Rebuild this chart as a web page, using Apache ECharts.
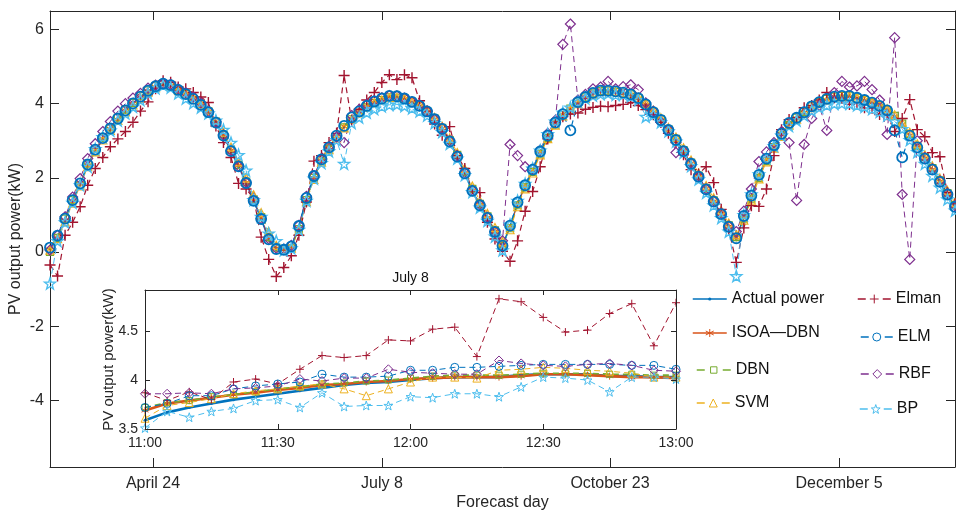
<!DOCTYPE html>
<html>
<head>
<meta charset="utf-8">
<script src="https://cdn.jsdelivr.net/npm/echarts@6/dist/echarts.min.js"></script>
<style>
  html, body { margin: 0; padding: 0; background: #fff; }
  #chart { width: 956px; height: 512px; }
</style>
</head>
<body>
<div id="chart"></div>
<script>
// ---- Forecast-day curves (sample index 0..120, kW) ----
const actualPower = [
  0.10,0.42,0.88,1.38,1.83,2.35,2.74,3.05,3.30,3.58,
  3.80,3.99,4.17,4.34,4.46,4.53,4.49,4.36,4.25,4.12,
  3.96,3.76,3.48,3.13,2.71,2.30,1.85,1.37,0.88,0.32,
  0.07,0.05,0.14,0.68,1.45,2.03,2.48,2.80,3.12,3.38,
  3.61,3.77,3.92,4.04,4.12,4.19,4.18,4.12,4.03,3.92,
  3.77,3.56,3.30,2.96,2.55,2.10,1.63,1.24,0.90,0.52,
  0.15,0.69,1.32,1.78,2.20,2.69,3.12,3.47,3.70,3.85,
  4.02,4.16,4.27,4.33,4.33,4.31,4.28,4.23,4.13,3.96,
  3.75,3.54,3.27,3.00,2.70,2.36,2.01,1.67,1.34,1.00,
  0.66,0.35,0.95,1.50,2.06,2.50,2.86,3.17,3.46,3.60,
  3.75,3.91,4.02,4.11,4.17,4.19,4.19,4.14,4.08,4.01,
  3.92,3.80,3.63,3.41,3.12,2.80,2.50,2.20,1.87,1.53,
  1.20
];
const isoaDbn = [
  0.08,0.40,0.85,1.36,1.85,2.33,2.76,3.06,3.32,3.57,
  3.82,4.00,4.18,4.33,4.45,4.51,4.48,4.37,4.24,4.13,
  3.97,3.78,3.50,3.16,2.74,2.33,1.88,1.40,0.92,0.37,
  0.10,0.06,0.13,0.64,1.42,2.00,2.46,2.81,3.11,3.39,
  3.60,3.78,3.93,4.03,4.11,4.18,4.17,4.13,4.04,3.93,
  3.78,3.58,3.33,2.99,2.58,2.13,1.66,1.27,0.93,0.55,
  0.18,0.66,1.29,1.76,2.18,2.67,3.10,3.46,3.71,3.86,
  4.01,4.15,4.26,4.32,4.34,4.30,4.27,4.24,4.14,3.97,
  3.77,3.56,3.29,3.02,2.73,2.39,2.04,1.70,1.37,1.03,
  0.69,0.38,0.92,1.47,2.04,2.48,2.85,3.16,3.44,3.61,
  3.76,3.90,4.01,4.10,4.16,4.18,4.18,4.15,4.09,4.02,
  3.93,3.81,3.65,3.43,3.15,2.83,2.53,2.23,1.90,1.56,
  1.23
];
const dbn = [
  0.00,0.38,0.90,1.40,1.80,2.38,2.72,3.08,3.33,3.62,
  3.84,4.02,4.20,4.36,4.47,4.52,4.47,4.34,4.26,4.10,
  3.98,3.79,3.52,3.17,2.76,2.35,1.90,1.42,0.94,0.40,
  0.12,0.04,0.10,0.62,1.40,2.00,2.44,2.78,3.10,3.36,
  3.58,3.75,3.90,4.02,4.10,4.17,4.16,4.14,4.05,3.95,
  3.80,3.60,3.35,3.02,2.62,2.16,1.70,1.30,0.96,0.58,
  0.20,0.64,1.26,1.74,2.16,2.65,3.08,3.44,3.69,3.87,
  4.04,4.17,4.28,4.34,4.35,4.32,4.29,4.25,4.15,3.99,
  3.78,3.58,3.31,3.05,2.75,2.41,2.06,1.72,1.39,1.05,
  0.72,0.40,0.90,1.44,2.00,2.46,2.83,3.14,3.42,3.62,
  3.78,3.93,4.04,4.13,4.19,4.21,4.20,4.16,4.10,4.03,
  3.95,3.83,3.67,3.46,3.18,2.86,2.56,2.26,1.93,1.59,
  1.27
];
const svm = [
  0.05,0.36,0.82,1.32,1.78,2.30,2.70,3.02,3.28,3.55,
  3.78,3.97,4.15,4.31,4.43,4.50,4.48,4.38,4.28,4.16,
  4.01,3.82,3.56,3.23,2.83,2.43,2.00,1.54,1.06,0.55,
  0.18,0.08,0.10,0.58,1.36,1.96,2.42,2.76,3.08,3.35,
  3.58,3.75,3.90,4.02,4.10,4.16,4.17,4.14,4.06,3.97,
  3.83,3.63,3.39,3.07,2.68,2.24,1.78,1.38,1.04,0.66,
  0.28,0.60,1.22,1.70,2.13,2.62,3.06,3.42,3.67,3.84,
  4.00,4.14,4.26,4.33,4.34,4.33,4.30,4.26,4.17,4.02,
  3.82,3.62,3.36,3.10,2.81,2.48,2.13,1.79,1.46,1.12,
  0.78,0.46,0.86,1.40,1.97,2.43,2.80,3.12,3.42,3.58,
  3.73,3.89,4.00,4.10,4.16,4.19,4.20,4.17,4.12,4.05,
  3.97,3.86,3.70,3.50,3.23,2.92,2.62,2.32,1.99,1.66,
  1.33
];
const elman = [
  -0.35,-0.65,0.45,0.80,1.22,1.80,2.25,2.55,2.84,3.05,
  3.25,3.50,3.80,4.05,4.40,4.62,4.58,4.45,4.40,4.30,
  4.18,4.03,3.40,2.95,2.55,1.85,1.70,1.45,0.40,-0.20,
  -0.66,-0.42,-0.10,0.45,1.35,2.45,2.60,2.95,3.20,4.76,
  3.55,3.85,4.10,4.30,4.57,4.78,4.65,4.78,4.70,4.08,
  3.80,3.45,3.15,3.38,2.60,2.25,1.65,1.60,0.80,0.35,
  0.02,-0.25,0.30,1.10,1.63,2.30,3.05,3.50,3.65,3.72,
  3.75,3.85,3.90,3.93,3.92,3.95,3.98,4.03,3.95,3.84,
  3.70,3.50,3.20,2.95,2.62,2.22,2.10,2.30,1.87,1.15,
  0.60,-0.28,0.65,1.25,1.23,1.70,2.60,3.30,3.57,3.62,
  3.89,3.95,4.10,4.30,4.16,4.15,3.98,4.02,3.89,3.88,
  3.71,3.70,3.25,3.60,4.11,3.30,3.11,2.68,2.57,1.60,
  1.30
];
const elm = [
  0.12,0.44,0.90,1.40,1.85,2.36,2.76,3.07,3.33,3.60,
  3.82,4.01,4.19,4.35,4.47,4.54,4.50,4.37,4.26,4.13,
  3.97,3.77,3.49,3.14,2.72,2.31,1.86,1.38,0.89,0.34,
  0.08,0.06,0.15,0.70,1.46,2.05,2.50,2.82,3.14,3.40,
  3.63,3.79,3.94,4.06,4.14,4.21,4.20,4.14,4.05,3.94,
  3.79,3.58,3.32,2.98,2.57,2.12,1.65,1.26,0.92,0.54,
  0.17,0.71,1.34,1.80,2.22,2.71,3.14,3.49,3.72,3.28,
  4.04,4.18,4.29,4.35,4.35,4.33,4.30,4.25,4.15,3.98,
  3.77,3.56,3.29,3.02,2.72,2.38,2.03,1.69,1.36,1.02,
  0.68,0.37,0.97,1.52,2.08,2.52,2.88,3.19,3.48,3.62,
  3.77,3.93,4.04,4.13,4.19,4.21,4.21,4.16,4.10,4.03,
  3.94,3.82,3.28,2.55,3.14,2.82,2.52,2.22,1.89,1.55,
  1.22
];
const rbf = [
  0.05,0.45,0.95,1.48,1.98,2.52,2.92,3.25,3.52,3.80,
  4.00,4.15,4.28,4.42,4.50,4.55,4.52,4.40,4.30,4.18,
  4.02,3.80,3.52,3.16,2.74,2.32,1.88,1.40,0.90,0.36,
  0.10,0.08,0.18,0.72,1.50,2.06,2.52,2.85,3.10,2.95,
  3.68,3.85,3.98,4.08,4.16,4.22,4.21,4.15,4.05,3.96,
  3.80,3.58,3.34,3.00,2.60,2.14,1.66,1.28,0.94,0.55,
  0.30,2.90,2.60,2.30,2.25,2.75,3.20,3.55,5.60,6.15,
  4.10,4.25,4.40,4.45,4.60,4.40,4.46,4.51,4.38,4.02,
  3.80,3.50,3.30,2.68,2.72,2.40,2.05,1.70,1.38,1.04,
  0.70,0.55,1.10,1.70,2.44,2.70,2.95,3.25,2.95,1.39,
  2.90,3.60,3.95,3.28,4.30,4.60,4.45,4.48,4.60,4.38,
  4.10,3.17,5.78,1.55,-0.20,3.00,2.55,2.25,1.92,1.58,
  1.25
];
const bp = [
  -0.85,0.30,0.80,1.33,1.80,2.30,2.78,3.10,3.28,3.55,
  3.74,3.92,4.10,4.28,4.42,4.50,4.44,4.28,4.14,4.02,
  3.90,3.74,3.55,3.30,2.95,2.62,2.20,1.40,0.95,0.50,
  0.30,0.05,0.10,0.60,1.38,1.98,2.40,2.72,3.02,2.38,
  3.48,3.63,3.76,3.86,3.93,3.97,3.98,3.94,3.88,3.80,
  3.68,3.48,3.24,2.92,2.52,2.08,1.62,1.20,0.84,0.42,
  0.05,0.74,1.38,1.84,2.25,2.74,3.18,3.52,3.76,3.90,
  4.05,4.14,4.22,4.26,4.28,4.24,4.25,4.20,4.10,3.65,
  3.70,3.50,3.26,2.98,2.68,2.32,1.96,1.60,1.26,0.92,
  0.55,-0.65,1.00,1.56,2.10,2.52,2.86,3.14,3.40,3.55,
  3.68,3.81,3.90,3.96,4.00,4.01,4.00,3.96,3.92,3.86,
  3.78,3.68,3.52,3.32,3.02,2.70,2.38,2.06,1.74,1.42,
  1.12
];

// Day tick marks on the sample-index axis and their labels
const dayTickPos = [13.66, 44.02, 74.25, 104.62];
const dayLabels = ['April 24', 'July 8', 'October 23', 'December 5'];
const mainYTicks = [-4, -2, 0, 2, 4, 6];

// ---- July 8 detail, 11:00-13:00 every 5 minutes (kW) ----
const insetTimes = ['11:00','11:05','11:10','11:15','11:20','11:25','11:30','11:35','11:40','11:45',
  '11:50','11:55','12:00','12:05','12:10','12:15','12:20','12:25','12:30','12:35',
  '12:40','12:45','12:50','12:55','13:00'];
const insetActual = [3.59,3.67,3.72,3.76,3.80,3.83,3.86,3.89,3.92,3.95,3.97,3.98,4.00,4.02,4.03,4.03,4.03,4.05,4.06,4.06,4.06,4.04,4.04,4.03,4.03];
const insetIsoa   = [3.69,3.76,3.79,3.82,3.85,3.87,3.90,3.92,3.95,3.96,3.98,3.99,4.01,4.02,4.03,4.03,4.03,4.04,4.06,4.06,4.05,4.04,4.03,4.03,4.02];
const insetDbn    = [3.72,3.77,3.79,3.83,3.85,3.88,3.91,3.93,3.96,3.97,3.99,4.00,4.02,4.04,4.05,4.05,4.05,4.06,4.07,4.07,4.07,4.06,4.06,4.05,4.05];
const insetSvm    = [3.61,3.74,3.77,3.81,3.86,3.89,3.91,3.94,3.96,3.91,3.84,3.91,3.98,4.03,4.03,4.02,4.10,4.11,4.13,4.12,4.10,4.09,4.07,4.03,4.03];
const insetElman  = [3.87,3.79,3.88,3.80,3.98,4.01,3.96,4.11,4.25,4.23,4.25,4.41,4.40,4.52,4.54,4.24,4.83,4.80,4.64,4.49,4.51,4.68,4.78,4.35,4.79];
const insetElm    = [3.72,3.76,3.84,3.84,3.91,3.94,3.96,3.98,4.06,4.03,4.03,4.04,4.10,4.10,4.13,4.13,4.14,4.15,4.16,4.16,4.16,4.16,4.15,4.15,4.11];
const insetRbf    = [3.86,3.86,3.87,3.86,3.91,3.92,3.94,4.01,3.99,4.02,4.02,4.11,4.08,4.07,4.06,4.06,4.20,4.17,4.15,4.14,4.16,4.17,4.15,4.10,4.09];
const insetBp     = [3.51,3.68,3.62,3.68,3.71,3.79,3.80,3.72,3.87,3.73,3.74,3.74,3.83,3.82,3.86,3.86,3.83,3.93,4.03,4.02,4.00,3.88,4.03,4.03,4.01];
const insetYTicks = [3.5, 4, 4.5];

// ---- styling ----
const FONT = 'Liberation Sans, Arial, Helvetica, sans-serif';
const AX = '#262626';
const PLUS = 'path://M0,5L10,5M5,0L5,10';
const ASTER = 'path://M5,0L5,10M0.67,2.5L9.33,7.5M0.67,7.5L9.33,2.5';
const STAR = 'path://M5,0L6.18,3.38L9.76,3.45L6.9,5.62L7.94,9.05L5,7L2.06,9.05L3.1,5.62L0.24,3.45L3.82,3.38Z';

// size/bw: main chart marker, sizeIn/bwIn: detail panel marker
const styles = {
  'Actual power': { color: '#0072BD', symbol: 'circle', size: 3, sizeIn: 3, bw: 0, bwIn: 0, w: 1.2, wIn: 2.6, dashed: false, filled: true },
  'ISOA—DBN':     { color: '#D95319', symbol: ASTER, size: 7, sizeIn: 7, bw: 1, bwIn: 1, w: 1, wIn: 2.6, dashed: false },
  'DBN':          { color: '#77AC30', symbol: 'rect', size: 7, sizeIn: 6, bw: 1.2, bwIn: 1, w: 1, wIn: 1.6, dashed: true },
  'SVM':          { color: '#EDB120', symbol: 'triangle', size: 8, sizeIn: 8, bw: 1.2, bwIn: 1, w: 1, wIn: 1, dashed: true },
  'Elman':        { color: '#A2142F', symbol: PLUS, size: 11, sizeIn: 8, bw: 1.4, bwIn: 1, w: 1.2, wIn: 1, dashed: true },
  'ELM':          { color: '#0072BD', symbol: 'circle', size: 10, sizeIn: 8, bw: 1.8, bwIn: 1, w: 1.2, wIn: 1, dashed: true },
  'RBF':          { color: '#7E2F8E', symbol: 'diamond', size: 10, sizeIn: 9, bw: 1.2, bwIn: 1, w: 1, wIn: 1, dashed: true },
  'BP':           { color: '#4DBEEE', symbol: STAR, size: 11, sizeIn: 9, bw: 1.4, bwIn: 1, w: 1, wIn: 1, dashed: true }
};

function markStyle(st, bw) {
  return st.filled
    ? { color: st.color }
    : { color: 'rgba(0,0,0,0)', borderColor: st.color, borderWidth: bw };
}

function mainSeries(name, values) {
  const st = styles[name];
  return {
    type: 'line', name, xAxisIndex: 0, yAxisIndex: 0,
    data: values.map((v, i) => [i, v]),
    symbol: st.symbol, symbolSize: st.size, showAllSymbol: true,
    lineStyle: { color: st.color, width: st.w, type: st.dashed ? [6, 4] : 'solid' },
    itemStyle: markStyle(st, st.bw),
    z: 2, silent: true, animation: false
  };
}

function insetSeries(name, values) {
  const st = styles[name];
  return {
    type: 'line', name, xAxisIndex: 2, yAxisIndex: 2,
    data: values,
    symbol: st.symbol, symbolSize: st.sizeIn, showAllSymbol: true,
    lineStyle: { color: st.color, width: st.wIn, type: st.dashed ? [6, 4] : 'solid' },
    itemStyle: markStyle(st, st.bwIn),
    z: 6, silent: true, animation: false
  };
}

// one legend per entry so each icon keeps its own marker size and dash layout
const legendSlots = [
  { name: 'Actual power', left: 692, cy: 299, w: 34, h: 4 },
  { name: 'ISOA—DBN',     left: 692, cy: 333, w: 34, h: 10 },
  { name: 'DBN',          left: 696, cy: 370, w: 34, h: 8 },
  { name: 'SVM',          left: 696, cy: 403, w: 33, h: 10 },
  { name: 'Elman',        left: 857, cy: 299, w: 33, h: 11 },
  { name: 'ELM',          left: 860, cy: 337, w: 32, h: 10 },
  { name: 'RBF',          left: 860, cy: 374, w: 33, h: 11 },
  { name: 'BP',           left: 859, cy: 409, w: 32, h: 11 }
];
const legends = legendSlots.map(s => {
  const st = styles[s.name];
  return {
    data: [s.name], left: s.left, top: s.cy - 8, padding: 0,
    orient: 'vertical', itemWidth: s.w, itemHeight: s.h,
    textStyle: { fontSize: 16, color: '#111', fontFamily: FONT },
    itemStyle: markStyle(st, 1),
    lineStyle: { color: st.color, width: 1.5, type: st.dashed ? [8, s.w - 16] : 'solid' }
  };
});

function nearestDay(v) {
  let best = 0;
  dayTickPos.forEach((p, i) => { if (Math.abs(p - v) < Math.abs(dayTickPos[best] - v)) best = i; });
  return dayLabels[best];
}

const lineAx = { show: true, onZero: false, lineStyle: { color: AX, width: 1 } };

const option = {
  backgroundColor: '#fff',
  animation: false,
  textStyle: { fontFamily: FONT },
  legend: legends,
  grid: [
    { left: 50, top: 11, width: 905, height: 456, containLabel: false, outerBoundsMode: 'none' },
    { left: 145, top: 290, width: 531, height: 139, show: true, backgroundColor: '#fff', borderWidth: 0, z: 5,
      containLabel: false, outerBoundsMode: 'none' }
  ],
  xAxis: [
    { type: 'value', gridIndex: 0, position: 'bottom', min: 0, max: 120,
      axisLine: lineAx,
      axisTick: { show: true, inside: true, length: 9, customValues: dayTickPos, lineStyle: { color: AX } },
      axisLabel: { customValues: dayTickPos, formatter: nearestDay, margin: 9, fontSize: 16, color: AX, fontFamily: FONT },
      splitLine: { show: false },
      name: 'Forecast day', nameLocation: 'middle', nameGap: 28, nameMoveOverlap: false,
      nameTextStyle: { fontSize: 16, color: AX, fontFamily: FONT } },
    { type: 'value', gridIndex: 0, position: 'top', min: 0, max: 120,
      axisLine: lineAx,
      axisTick: { show: true, inside: true, length: 9, customValues: dayTickPos, lineStyle: { color: AX } },
      axisLabel: { show: false }, splitLine: { show: false } },
    { type: 'category', gridIndex: 1, position: 'bottom', data: insetTimes, boundaryGap: false, z: 8,
      axisLine: lineAx,
      axisTick: { show: true, inside: true, length: 5, interval: 5, lineStyle: { color: AX } },
      axisLabel: { interval: 5, margin: 7, fontSize: 14, color: AX, fontFamily: FONT },
      splitLine: { show: false } },
    { type: 'category', gridIndex: 1, position: 'top', data: insetTimes, boundaryGap: false, z: 8,
      axisLine: lineAx,
      axisTick: { show: true, inside: true, length: 5, interval: 5, lineStyle: { color: AX } },
      axisLabel: { show: false }, splitLine: { show: false },
      name: 'July 8', nameLocation: 'middle', nameGap: 5, nameMoveOverlap: false,
      nameTextStyle: { fontSize: 14, color: '#111', fontFamily: FONT } }
  ],
  yAxis: [
    { type: 'value', gridIndex: 0, position: 'left', min: -5.8, max: 6.5,
      axisLine: lineAx,
      axisTick: { show: true, inside: true, length: 9, customValues: mainYTicks, lineStyle: { color: AX } },
      axisLabel: { customValues: mainYTicks, margin: 6, fontSize: 16, color: AX, fontFamily: FONT },
      splitLine: { show: false },
      name: 'PV output power(kW)', nameLocation: 'middle', nameGap: 26, nameMoveOverlap: false,
      nameTextStyle: { fontSize: 16, color: AX, fontFamily: FONT } },
    { type: 'value', gridIndex: 0, position: 'right', min: -5.8, max: 6.5,
      axisLine: lineAx,
      axisTick: { show: true, inside: true, length: 9, customValues: mainYTicks, lineStyle: { color: AX } },
      axisLabel: { show: false }, splitLine: { show: false } },
    { type: 'value', gridIndex: 1, position: 'left', min: 3.5, max: 4.92, z: 8,
      axisLine: lineAx,
      axisTick: { show: true, inside: true, length: 5, customValues: insetYTicks, lineStyle: { color: AX } },
      axisLabel: { customValues: insetYTicks, margin: 7, fontSize: 14, color: AX, fontFamily: FONT },
      splitLine: { show: false },
      name: 'PV output power(kW)', nameLocation: 'middle', nameGap: 29, nameMoveOverlap: false,
      nameTextStyle: { fontSize: 15, color: AX, fontFamily: FONT } },
    { type: 'value', gridIndex: 1, position: 'right', min: 3.5, max: 4.92, z: 8,
      axisLine: lineAx,
      axisTick: { show: true, inside: true, length: 5, customValues: insetYTicks, lineStyle: { color: AX } },
      axisLabel: { show: false }, splitLine: { show: false } }
  ],
  series: [
    mainSeries('Actual power', actualPower),
    mainSeries('ISOA—DBN', isoaDbn),
    mainSeries('DBN', dbn),
    mainSeries('SVM', svm),
    mainSeries('Elman', elman),
    mainSeries('RBF', rbf),
    mainSeries('BP', bp),
    mainSeries('ELM', elm),
    insetSeries('Actual power', insetActual),
    insetSeries('ISOA—DBN', insetIsoa),
    insetSeries('DBN', insetDbn),
    insetSeries('SVM', insetSvm),
    insetSeries('Elman', insetElman),
    insetSeries('ELM', insetElm),
    insetSeries('RBF', insetRbf),
    insetSeries('BP', insetBp)
  ]
};

const chart = echarts.init(document.getElementById('chart'));
chart.setOption(option);
</script>
</body>
</html>
